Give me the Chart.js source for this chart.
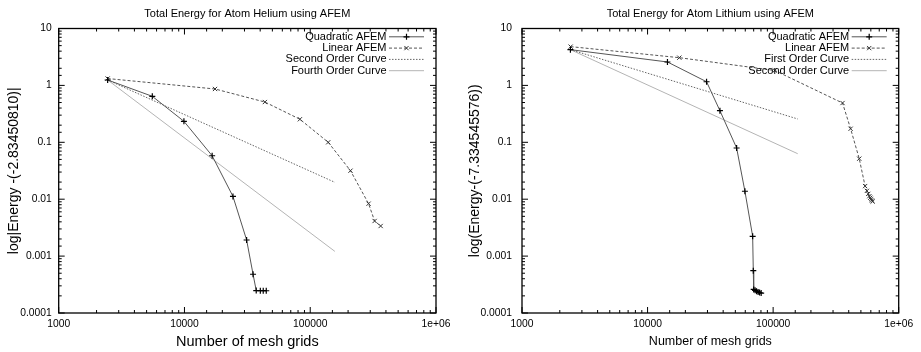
<!DOCTYPE html>
<html>
<head>
<meta charset="utf-8">
<script src="https://cdn.jsdelivr.net/npm/chart.js@4.4.0/dist/chart.umd.min.js"></script>
<style>
  html, body { margin: 0; padding: 0; background: #fff; }
  #wrap { position: relative; width: 921px; height: 352px; }
  .box { position: absolute; top: 0; height: 352px; }
</style>
</head>
<body>
<div id="wrap">
  <div class="box" style="left:0;width:460px"><canvas id="heChart" width="460" height="352"></canvas></div>
  <div class="box" style="left:460px;width:461px"><canvas id="liChart" width="461" height="352"></canvas></div>
</div>
<script>
// tick labels (powers of ten only)
const xTickLabels = ['1000', '10000', '100000', '1e+06'];
const yTickLabels = ['0.0001', '0.001', '0.01', '0.1', '1', '10'];

// Helium
const heQuadN = [2450, 5550, 9900, 16600, 24300, 31200, 35100, 37200, 40100, 42300, 44700];
const heQuadE = [1.245, 0.643, 0.234, 0.058, 0.0112, 0.00192, 0.00048, 0.000248, 0.000247, 0.000247, 0.000246];
const heLinN = [2450, 17500, 43600, 82800, 139000, 209000, 291000, 325000, 363000];
const heLinE = [1.32, 0.865, 0.51, 0.254, 0.1, 0.0317, 0.00834, 0.00414, 0.00338];
const heOrderN = [2450, 157000];
const heSecondE = [1.245, 0.0198];
const heFourthE = [1.245, 0.00121];

// Lithium
const liQuadN = [2430, 14400, 29500, 37700, 51200, 59600, 68700, 69500, 70000, 71800, 73800, 75900, 78000, 80300];
const liQuadE = [4.25, 2.58, 1.16, 0.359, 0.0794, 0.0138, 0.00223, 0.000555, 0.00026, 0.00025, 0.000242, 0.000235, 0.000229, 0.000224];
const liLinN = [2440, 17900, 103000, 357000, 414000, 485000, 540000, 558000, 572000, 584000, 594000, 603000, 612000, 620000];
const liLinE = [4.8, 3.07, 1.83, 0.49, 0.173, 0.0515, 0.0170, 0.0140, 0.0124, 0.0113, 0.0106, 0.0100, 0.0095, 0.0091];
const liOrderN = [2430, 157000];
const liFirstE = [4.25, 0.257];
const liSecondE = [4.25, 0.063];

const FONT = '"Liberation Sans", Arial, Helvetica, sans-serif';
Chart.defaults.font.family = FONT;
Chart.defaults.color = '#000';

const zip = (xs, ys) => xs.map((x, i) => ({ x: x, y: ys[i] }));
const isPow10 = v => Math.abs(Math.log10(v) - Math.round(Math.log10(v))) < 1e-9;

const quadStyle = { borderColor: '#555', borderWidth: 1, pointStyle: 'cross', pointRadius: 3, pointBorderColor: '#000', pointBorderWidth: 1.2 };
const linStyle = { borderColor: '#555', borderWidth: 1, borderDash: [3, 2], pointStyle: 'crossRot', pointRadius: 3, pointBorderColor: '#333', pointBorderWidth: 1 };
const dotStyle = { borderColor: '#666', borderWidth: 1, borderDash: [1.5, 1.5], pointRadius: 0 };
const lightStyle = { borderColor: '#b4b4b4', borderWidth: 1, pointRadius: 0 };

function drawMarker(ctx, style, x, y, r) {
  ctx.beginPath();
  if (style === 'cross') {
    ctx.moveTo(x - r, y); ctx.lineTo(x + r, y);
    ctx.moveTo(x, y - r); ctx.lineTo(x, y + r);
  } else {
    const d = r * 0.707;
    ctx.moveTo(x - d, y - d); ctx.lineTo(x + d, y + d);
    ctx.moveTo(x - d, y + d); ctx.lineTo(x + d, y - d);
  }
  ctx.stroke();
}

// gnuplot-like frame: border box and inward ticks on all four sides
const framePlugin = {
  id: 'gpFrame',
  beforeDatasetsDraw(chart) {
    const { ctx, chartArea: a, scales: { x, y } } = chart;
    ctx.save();
    ctx.strokeStyle = '#000';
    ctx.lineWidth = 1;
    ctx.beginPath();
    x.ticks.forEach(t => {
      const px = x.getPixelForValue(t.value);
      const len = isPow10(t.value) ? 6 : 3;
      ctx.moveTo(px, a.bottom); ctx.lineTo(px, a.bottom - len);
      ctx.moveTo(px, a.top); ctx.lineTo(px, a.top + len);
    });
    y.ticks.forEach(t => {
      const py = y.getPixelForValue(t.value);
      const len = isPow10(t.value) ? 6 : 3;
      ctx.moveTo(a.left, py); ctx.lineTo(a.left + len, py);
      ctx.moveTo(a.right, py); ctx.lineTo(a.right - len, py);
    });
    ctx.stroke();
    ctx.lineWidth = 1.3;
    ctx.strokeRect(a.left, a.top, a.right - a.left, a.bottom - a.top);
    ctx.restore();
  }
};

// legend: right aligned text, line sample to its right (gnuplot key)
const legendPlugin = {
  id: 'gpLegend',
  afterDatasetsDraw(chart) {
    const { ctx, chartArea: a } = chart;
    ctx.save();
    ctx.font = '11px ' + FONT;
    ctx.textAlign = 'right';
    ctx.textBaseline = 'middle';
    chart.data.datasets.forEach((ds, i) => {
      const y = a.top + 8.3 + i * 11.3;
      ctx.fillStyle = '#000';
      ctx.fillText(ds.label, a.right - 49.5, y);
      const x0 = a.right - 47, x1 = a.right - 12;
      ctx.strokeStyle = ds.borderColor;
      ctx.lineWidth = ds.borderWidth;
      ctx.setLineDash(ds.borderDash || []);
      ctx.beginPath(); ctx.moveTo(x0, y); ctx.lineTo(x1, y); ctx.stroke();
      ctx.setLineDash([]);
      if (ds.pointRadius > 0) {
        ctx.strokeStyle = ds.pointBorderColor;
        ctx.lineWidth = ds.pointBorderWidth;
        drawMarker(ctx, ds.pointStyle, (x0 + x1) / 2, y, ds.pointRadius);
      }
    });
    ctx.restore();
  }
};

function makeChart(canvas, o) {
  return new Chart(canvas, {
    type: 'scatter',
    data: { datasets: o.datasets },
    options: {
      responsive: false,
      animation: false,
      showLine: true,
      layout: { padding: { left: 0, right: o.padRight, top: 0.3, bottom: 0 } },
      elements: { line: { tension: 0, fill: false } },
      plugins: {
        legend: { display: false },
        tooltip: { enabled: false },
        title: {
          display: true, text: o.title, color: '#000', fullSize: false,
          font: { size: 11, weight: 'normal' },
          padding: { top: 7, bottom: 8 }
        }
      },
      scales: {
        x: {
          type: 'logarithmic', min: 1000, max: 1e6,
          grid: { display: false, drawTicks: false },
          border: { display: false },
          afterFit: s => { s.height = 39; },
          ticks: {
            autoSkip: false, maxRotation: 0, padding: 4.5,
            font: { size: 10.3 },
            callback: v => isPow10(v) ? (xTickLabels[Math.round(Math.log10(v)) - 3] || '') : ''
          },
          title: {
            display: true, text: 'Number of mesh grids',
            font: { size: o.xTitleSize }, padding: { top: o.xTitlePad, bottom: o.xTitlePad }
          }
        },
        y: {
          type: 'logarithmic', min: 0.0001, max: 10,
          grid: { display: false, drawTicks: false },
          border: { display: false },
          afterFit: s => { s.width = o.yWidth; },
          ticks: {
            autoSkip: false, padding: o.yLabelPad,
            font: { size: 10.3 },
            callback: v => isPow10(v) ? (yTickLabels[Math.round(Math.log10(v)) + 4] || '') : ''
          },
          title: {
            display: true, text: o.yTitle,
            font: { size: 14 }, padding: { top: o.yTitlePad, bottom: o.yTitlePad }
          }
        }
      }
    },
    plugins: [framePlugin, legendPlugin]
  });
}

makeChart(document.getElementById('heChart'), {
  title: 'Total Energy for Atom Helium using AFEM',
  yTitle: 'log|Energy -(-2.83450810)|',
  yWidth: 58.7, padRight: 24, yLabelPad: 7, xTitleSize: 14.5, xTitlePad: 1.3, yTitlePad: 5.6,
  datasets: [
    Object.assign({ label: 'Quadratic AFEM', data: zip(heQuadN, heQuadE) }, quadStyle),
    Object.assign({ label: 'Linear AFEM', data: zip(heLinN, heLinE) }, linStyle),
    Object.assign({ label: 'Second Order Curve', data: zip(heOrderN, heSecondE) }, dotStyle),
    Object.assign({ label: 'Fourth Order Curve', data: zip(heOrderN, heFourthE) }, lightStyle)
  ]
});

makeChart(document.getElementById('liChart'), {
  title: 'Total Energy for Atom Lithium using AFEM',
  yTitle: 'log(Energy-(-7.334545576))',
  yWidth: 62, padRight: 22.3, yLabelPad: 10, xTitleSize: 12.5, xTitlePad: 2.5, yTitlePad: 6.6,
  datasets: [
    Object.assign({ label: 'Quadratic AFEM', data: zip(liQuadN, liQuadE) }, quadStyle),
    Object.assign({ label: 'Linear AFEM', data: zip(liLinN, liLinE) }, linStyle),
    Object.assign({ label: 'First Order Curve', data: zip(liOrderN, liFirstE) }, dotStyle),
    Object.assign({ label: 'Second Order Curve', data: zip(liOrderN, liSecondE) }, lightStyle)
  ]
});
</script>
</body>
</html>
